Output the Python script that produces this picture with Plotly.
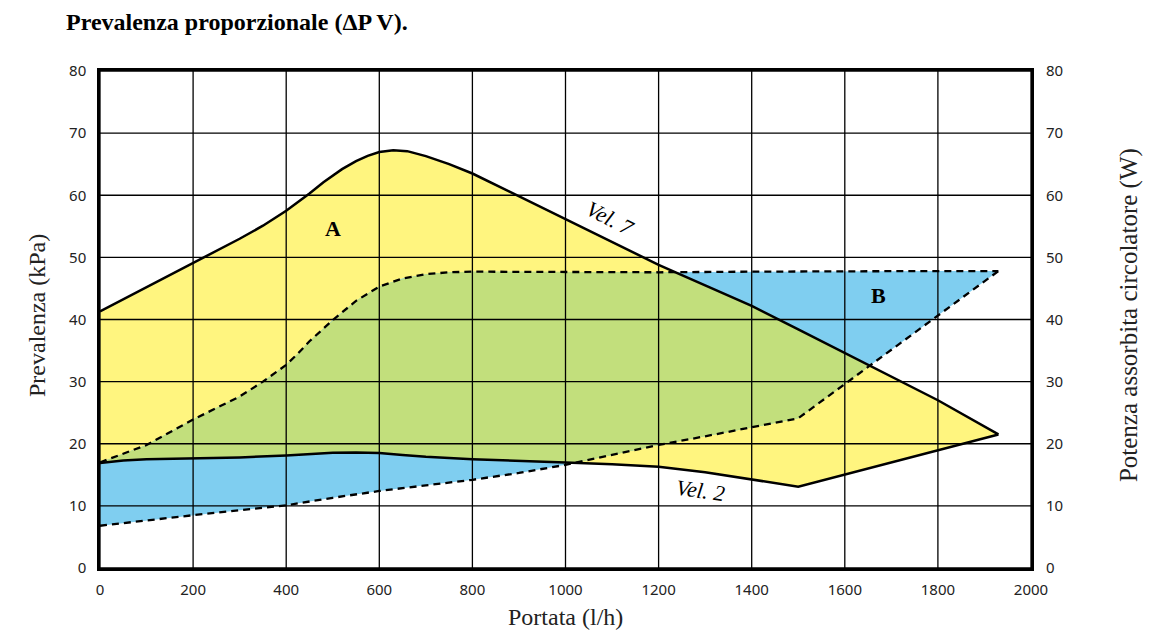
import numpy as np
import plotly.graph_objects as go

# ---- data ----
vel7_x = [0, 100, 200, 250, 300, 350, 400, 450, 480, 520, 550, 575, 600, 630, 660, 700, 750, 800, 900, 1000, 1100, 1200, 1300, 1400, 1500, 1600, 1700, 1800, 1930]
vel7_y = [41.3, 45.2, 49.0, 51.0, 53.0, 55.1, 57.5, 60.3, 62.1, 64.2, 65.5, 66.35, 66.95, 67.25, 67.1, 66.3, 65.0, 63.5, 59.8, 56.2, 52.5, 48.8, 45.5, 42.2, 38.4, 34.6, 30.8, 27.0, 21.5]

vel2_x = [0, 50, 100, 200, 300, 400, 450, 500, 550, 600, 650, 700, 800, 900, 1000, 1100, 1200, 1300, 1400, 1500, 1930]
vel2_y = [16.9, 17.3, 17.5, 17.6, 17.8, 18.1, 18.35, 18.55, 18.6, 18.5, 18.2, 17.9, 17.5, 17.3, 17.0, 16.7, 16.3, 15.4, 14.3, 13.1, 21.5]

btop_x = [0, 100, 200, 300, 350, 400, 425, 450, 500, 550, 600, 650, 700, 750, 800, 1000, 1200, 1400, 1600, 1800, 1930]
btop_y = [17.0, 19.8, 23.9, 27.6, 30.0, 32.7, 34.5, 36.5, 39.9, 43.0, 45.3, 46.6, 47.3, 47.6, 47.7, 47.6, 47.6, 47.7, 47.8, 47.8, 47.8]

bbot_x = [0, 100, 200, 300, 400, 500, 600, 700, 800, 900, 1000, 1100, 1200, 1300, 1400, 1500, 1930]
bbot_y = [6.8, 7.7, 8.5, 9.3, 10.1, 11.3, 12.4, 13.3, 14.2, 15.3, 16.6, 18.2, 19.8, 21.2, 22.6, 24.1, 47.8]

x_ticks = [0, 200, 400, 600, 800, 1000, 1200, 1400, 1600, 1800, 2000]
y_ticks = [0, 10, 20, 30, 40, 50, 60, 70, 80]

YELLOW = "#FFF57F"
BLUE = "#7FCEF0"
GREEN = "#C2DF7C"

# ---- intersection of region A (vel2..vel7) and region B (bbot..btop) ----
grid = np.unique(np.concatenate([vel7_x, vel2_x, btop_x, bbot_x]).astype(float))
def up(x):
    return np.minimum(np.interp(x, vel7_x, vel7_y), np.interp(x, btop_x, btop_y))
def lo(x):
    return np.maximum(np.interp(x, vel2_x, vel2_y), np.interp(x, bbot_x, bbot_y))
extra = []
pairs = [((vel7_x, vel7_y), (btop_x, btop_y)), ((vel2_x, vel2_y), (bbot_x, bbot_y)),
         ((vel7_x, vel7_y), (bbot_x, bbot_y)), ((vel2_x, vel2_y), (btop_x, btop_y))]
for (ax, ay), (bx, by) in pairs:
    d = np.interp(grid, ax, ay) - np.interp(grid, bx, by)
    for i in range(len(grid) - 1):
        if d[i] * d[i + 1] < 0:
            t = d[i] / (d[i] - d[i + 1])
            extra.append(grid[i] + t * (grid[i + 1] - grid[i]))
grid = np.unique(np.concatenate([grid, extra]))
u, l = up(grid), lo(grid)
mask = u >= l - 1e-9
gx = grid[mask]
ix = list(gx) + list(gx[::-1])
iy = list(u[mask]) + list(l[mask][::-1])

fig = go.Figure()

fig.add_trace(go.Scatter(x=list(vel7_x) + list(vel2_x[::-1]), y=list(vel7_y) + list(vel2_y[::-1]),
                         fill="toself", fillcolor=YELLOW, line=dict(width=0), mode="lines",
                         hoverinfo="skip", showlegend=False))
fig.add_trace(go.Scatter(x=list(btop_x) + list(bbot_x[::-1]), y=list(btop_y) + list(bbot_y[::-1]),
                         fill="toself", fillcolor=BLUE, line=dict(width=0), mode="lines",
                         hoverinfo="skip", showlegend=False))
fig.add_trace(go.Scatter(x=ix, y=iy, fill="toself", fillcolor=GREEN, line=dict(width=0),
                         mode="lines", hoverinfo="skip", showlegend=False))

# grid lines above fills
gxs, gys = [], []
for t in x_ticks:
    gxs += [t, t, None]
    gys += [y_ticks[0], y_ticks[-1], None]
for t in y_ticks:
    gxs += [x_ticks[0], x_ticks[-1], None]
    gys += [t, t, None]
fig.add_trace(go.Scatter(x=gxs, y=gys, mode="lines", line=dict(color="black", width=1.3),
                         hoverinfo="skip", showlegend=False))

fig.add_trace(go.Scatter(x=vel7_x, y=vel7_y, mode="lines", line=dict(color="black", width=2.5),
                         name="Vel. 7", showlegend=False))
fig.add_trace(go.Scatter(x=vel2_x, y=vel2_y, mode="lines", line=dict(color="black", width=2.5),
                         name="Vel. 2", showlegend=False))
fig.add_trace(go.Scatter(x=btop_x, y=btop_y, mode="lines",
                         line=dict(color="black", width=2.3, dash="7px,5px"), showlegend=False))
fig.add_trace(go.Scatter(x=bbot_x, y=bbot_y, mode="lines",
                         line=dict(color="black", width=2.3, dash="7px,5px"), showlegend=False))
fig.add_trace(go.Scatter(x=[x_ticks[0]], y=[y_ticks[0]], yaxis="y2", mode="markers",
                         marker=dict(opacity=0), hoverinfo="skip", showlegend=False))

tickfont = dict(family="Noto Sans", size=15, color="#222")
serif = "Liberation Serif"

fig.update_layout(
    width=1159, height=644,
    margin=dict(l=100, r=128, t=71, b=76),
    paper_bgcolor="white", plot_bgcolor="white",
    xaxis=dict(range=[0, 2000], tickvals=x_ticks, showgrid=False, zeroline=False,
               showline=True, linecolor="black", linewidth=2.5, mirror=True,
               ticks="", tickfont=tickfont, ticklabelstandoff=6),
    yaxis=dict(range=[0, 80], tickvals=y_ticks, showgrid=False, zeroline=False,
               showline=True, linecolor="black", linewidth=2.5, mirror=True,
               ticks="", tickfont=tickfont, ticklabelstandoff=8),
    yaxis2=dict(range=[0, 80], tickvals=y_ticks, overlaying="y", side="right",
                showgrid=False, zeroline=False, showline=False, ticks="",
                tickfont=tickfont, ticklabelstandoff=14),
    title=dict(text="<b>Prevalenza proporzionale (ΔP V).</b>",
               font=dict(family=serif, size=24, color="black"),
               x=66 / 1159, xanchor="left", xref="container", y=1 - 22 / 644, yanchor="middle"),
    annotations=[
        dict(text="Prevalenza (kPa)", xref="paper", yref="paper", x=-0.0838, y=0.509,
             textangle=-90, showarrow=False, font=dict(family=serif, size=24, color="#222")),
        dict(text="Portata (l/h)", xref="paper", yref="paper", x=0.5, y=-0.129,
             showarrow=False, font=dict(family=serif, size=24, color="#222")),
        dict(text="Potenza assorbita circolatore (W)", xref="paper", yref="paper", x=1.1225, y=0.509,
             textangle=-90, showarrow=False, font=dict(family=serif, size=25, color="#222")),
        dict(text="<b>A</b>", x=500, y=54.6, showarrow=False,
             font=dict(family=serif, size=22, color="black")),
        dict(text="<b>B</b>", x=1673, y=43.8, showarrow=False,
             font=dict(family=serif, size=22, color="black")),
        dict(text="<i>Vel. 7</i>", x=1096, y=56.2, showarrow=False, textangle=27,
             font=dict(family=serif, size=22, color="black")),
        dict(text="<i>Vel. 2</i>", x=1289, y=12.4, showarrow=False, textangle=8,
             font=dict(family=serif, size=22, color="black")),
    ],
)

fig.write_html("out.html")
